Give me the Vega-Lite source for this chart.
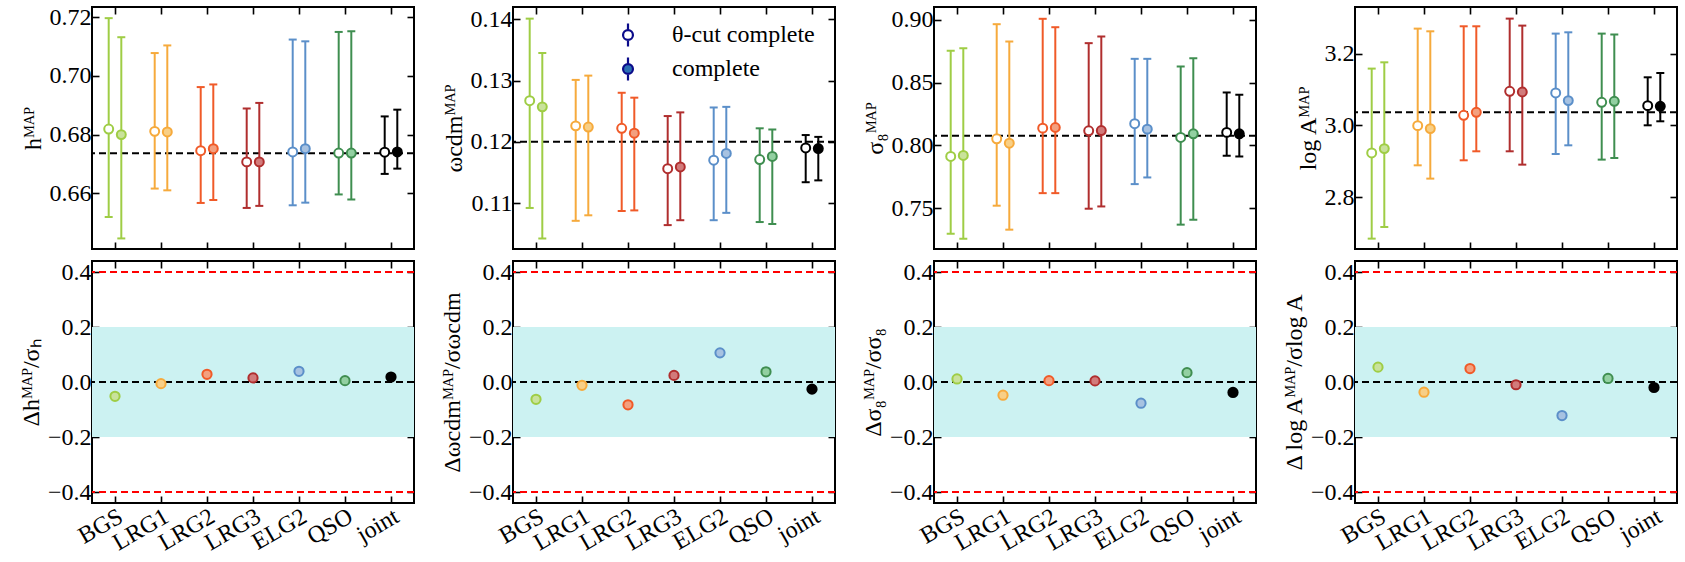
{
  "$schema": "https://vega.github.io/schema/vega-lite/v6.json",
  "background": "white",
  "padding": {"left": 18, "top": 4, "right": 5, "bottom": 3},
  "config": {
    "font": "Liberation Serif",
    "view": {"stroke": "black", "strokeWidth": 2},
    "axis": {"domain": false, "grid": false, "ticks": true, "tickSize": -7, "tickWidth": 1.6, "tickColor": "black", "labelFont": "Liberation Serif", "labelFontSize": 24, "labelColor": "black", "labelPadding": 8, "titleFont": "Liberation Serif", "titleFontSize": 24, "titleFontWeight": "normal", "titleColor": "black"},
    "legend": {"labelFont": "Liberation Serif", "labelFontSize": 24, "labelColor": "black"}
  },
  "datasets": {
    "top": [
      {"param": "h", "tracer": "BGS", "variant": "θ-cut complete", "v": 0.6819, "lo": 0.6519, "hi": 0.7197},
      {"param": "h", "tracer": "BGS", "variant": "complete", "v": 0.6800, "lo": 0.6446, "hi": 0.7132},
      {"param": "h", "tracer": "LRG1", "variant": "θ-cut complete", "v": 0.6811, "lo": 0.6616, "hi": 0.7078},
      {"param": "h", "tracer": "LRG1", "variant": "complete", "v": 0.6809, "lo": 0.6610, "hi": 0.7104},
      {"param": "h", "tracer": "LRG2", "variant": "θ-cut complete", "v": 0.6745, "lo": 0.6567, "hi": 0.6962},
      {"param": "h", "tracer": "LRG2", "variant": "complete", "v": 0.6752, "lo": 0.6577, "hi": 0.6971},
      {"param": "h", "tracer": "LRG3", "variant": "θ-cut complete", "v": 0.6707, "lo": 0.6550, "hi": 0.6889},
      {"param": "h", "tracer": "LRG3", "variant": "complete", "v": 0.6707, "lo": 0.6557, "hi": 0.6908},
      {"param": "h", "tracer": "ELG2", "variant": "θ-cut complete", "v": 0.6741, "lo": 0.6559, "hi": 0.7124},
      {"param": "h", "tracer": "ELG2", "variant": "complete", "v": 0.6752, "lo": 0.6568, "hi": 0.7118},
      {"param": "h", "tracer": "QSO", "variant": "θ-cut complete", "v": 0.6737, "lo": 0.6596, "hi": 0.7150},
      {"param": "h", "tracer": "QSO", "variant": "complete", "v": 0.6737, "lo": 0.6579, "hi": 0.7152},
      {"param": "h", "tracer": "joint", "variant": "θ-cut complete", "v": 0.6740, "lo": 0.6666, "hi": 0.6862},
      {"param": "h", "tracer": "joint", "variant": "complete", "v": 0.6741, "lo": 0.6684, "hi": 0.6885},
      {"param": "w", "tracer": "BGS", "variant": "θ-cut complete", "v": 0.1267, "lo": 0.1092, "hi": 0.1401},
      {"param": "w", "tracer": "BGS", "variant": "complete", "v": 0.1257, "lo": 0.1042, "hi": 0.1345},
      {"param": "w", "tracer": "LRG1", "variant": "θ-cut complete", "v": 0.1226, "lo": 0.1071, "hi": 0.1301},
      {"param": "w", "tracer": "LRG1", "variant": "complete", "v": 0.1224, "lo": 0.1080, "hi": 0.1308},
      {"param": "w", "tracer": "LRG2", "variant": "θ-cut complete", "v": 0.1222, "lo": 0.1087, "hi": 0.1280},
      {"param": "w", "tracer": "LRG2", "variant": "complete", "v": 0.1214, "lo": 0.1088, "hi": 0.1272},
      {"param": "w", "tracer": "LRG3", "variant": "θ-cut complete", "v": 0.1156, "lo": 0.1064, "hi": 0.1242},
      {"param": "w", "tracer": "LRG3", "variant": "complete", "v": 0.1159, "lo": 0.1072, "hi": 0.1248},
      {"param": "w", "tracer": "ELG2", "variant": "θ-cut complete", "v": 0.1170, "lo": 0.1072, "hi": 0.1256},
      {"param": "w", "tracer": "ELG2", "variant": "complete", "v": 0.1181, "lo": 0.1084, "hi": 0.1257},
      {"param": "w", "tracer": "QSO", "variant": "θ-cut complete", "v": 0.1171, "lo": 0.1069, "hi": 0.1222},
      {"param": "w", "tracer": "QSO", "variant": "complete", "v": 0.1176, "lo": 0.1066, "hi": 0.1220},
      {"param": "w", "tracer": "joint", "variant": "θ-cut complete", "v": 0.1190, "lo": 0.1134, "hi": 0.1211},
      {"param": "w", "tracer": "joint", "variant": "complete", "v": 0.1189, "lo": 0.1137, "hi": 0.1208},
      {"param": "s8", "tracer": "BGS", "variant": "θ-cut complete", "v": 0.7912, "lo": 0.7297, "hi": 0.8754},
      {"param": "s8", "tracer": "BGS", "variant": "complete", "v": 0.7920, "lo": 0.7257, "hi": 0.8775},
      {"param": "s8", "tracer": "LRG1", "variant": "θ-cut complete", "v": 0.8053, "lo": 0.7520, "hi": 0.8966},
      {"param": "s8", "tracer": "LRG1", "variant": "complete", "v": 0.8018, "lo": 0.7329, "hi": 0.8828},
      {"param": "s8", "tracer": "LRG2", "variant": "θ-cut complete", "v": 0.8138, "lo": 0.7620, "hi": 0.9009},
      {"param": "s8", "tracer": "LRG2", "variant": "complete", "v": 0.8143, "lo": 0.7620, "hi": 0.8942},
      {"param": "s8", "tracer": "LRG3", "variant": "θ-cut complete", "v": 0.8117, "lo": 0.7496, "hi": 0.8815},
      {"param": "s8", "tracer": "LRG3", "variant": "complete", "v": 0.8119, "lo": 0.7514, "hi": 0.8868},
      {"param": "s8", "tracer": "ELG2", "variant": "θ-cut complete", "v": 0.8173, "lo": 0.7692, "hi": 0.8690},
      {"param": "s8", "tracer": "ELG2", "variant": "complete", "v": 0.8130, "lo": 0.7745, "hi": 0.8690},
      {"param": "s8", "tracer": "QSO", "variant": "θ-cut complete", "v": 0.8064, "lo": 0.7369, "hi": 0.8629},
      {"param": "s8", "tracer": "QSO", "variant": "complete", "v": 0.8093, "lo": 0.7409, "hi": 0.8695},
      {"param": "s8", "tracer": "joint", "variant": "θ-cut complete", "v": 0.8104, "lo": 0.7918, "hi": 0.8422},
      {"param": "s8", "tracer": "joint", "variant": "complete", "v": 0.8093, "lo": 0.7912, "hi": 0.8404},
      {"param": "logA", "tracer": "BGS", "variant": "θ-cut complete", "v": 2.9228, "lo": 2.6839, "hi": 3.1582},
      {"param": "logA", "tracer": "BGS", "variant": "complete", "v": 2.9350, "lo": 2.7163, "hi": 3.1757},
      {"param": "logA", "tracer": "LRG1", "variant": "θ-cut complete", "v": 2.9991, "lo": 2.8884, "hi": 3.2697},
      {"param": "logA", "tracer": "LRG1", "variant": "complete", "v": 2.9908, "lo": 2.8513, "hi": 3.2622},
      {"param": "logA", "tracer": "LRG2", "variant": "θ-cut complete", "v": 3.0279, "lo": 2.9024, "hi": 3.2762},
      {"param": "logA", "tracer": "LRG2", "variant": "complete", "v": 3.0363, "lo": 2.9275, "hi": 3.2762},
      {"param": "logA", "tracer": "LRG3", "variant": "θ-cut complete", "v": 3.0948, "lo": 2.9275, "hi": 3.2976},
      {"param": "logA", "tracer": "LRG3", "variant": "complete", "v": 3.0929, "lo": 2.8903, "hi": 3.2781},
      {"param": "logA", "tracer": "ELG2", "variant": "θ-cut complete", "v": 3.0902, "lo": 2.9200, "hi": 3.2558},
      {"param": "logA", "tracer": "ELG2", "variant": "complete", "v": 3.0689, "lo": 2.9442, "hi": 3.2594},
      {"param": "logA", "tracer": "QSO", "variant": "θ-cut complete", "v": 3.0642, "lo": 2.9043, "hi": 3.2558},
      {"param": "logA", "tracer": "QSO", "variant": "complete", "v": 3.0669, "lo": 2.9088, "hi": 3.2530},
      {"param": "logA", "tracer": "joint", "variant": "θ-cut complete", "v": 3.0549, "lo": 3.0000, "hi": 3.1339},
      {"param": "logA", "tracer": "joint", "variant": "complete", "v": 3.0530, "lo": 3.0112, "hi": 3.1459}
    ],
    "truth": [
      {"param": "h", "v": 0.6736},
      {"param": "w", "v": 0.1200},
      {"param": "s8", "v": 0.8077},
      {"param": "logA", "v": 3.0363}
    ],
    "delta": [
      {"param": "h", "tracer": "BGS", "d": -0.052},
      {"param": "h", "tracer": "LRG1", "d": -0.006},
      {"param": "h", "tracer": "LRG2", "d": 0.028},
      {"param": "h", "tracer": "LRG3", "d": 0.015},
      {"param": "h", "tracer": "ELG2", "d": 0.039},
      {"param": "h", "tracer": "QSO", "d": 0.005},
      {"param": "h", "tracer": "joint", "d": 0.018},
      {"param": "w", "tracer": "BGS", "d": -0.063},
      {"param": "w", "tracer": "LRG1", "d": -0.012},
      {"param": "w", "tracer": "LRG2", "d": -0.083},
      {"param": "w", "tracer": "LRG3", "d": 0.024},
      {"param": "w", "tracer": "ELG2", "d": 0.106},
      {"param": "w", "tracer": "QSO", "d": 0.037},
      {"param": "w", "tracer": "joint", "d": -0.026},
      {"param": "s8", "tracer": "BGS", "d": 0.011},
      {"param": "s8", "tracer": "LRG1", "d": -0.048},
      {"param": "s8", "tracer": "LRG2", "d": 0.005},
      {"param": "s8", "tracer": "LRG3", "d": 0.004},
      {"param": "s8", "tracer": "ELG2", "d": -0.077},
      {"param": "s8", "tracer": "QSO", "d": 0.034},
      {"param": "s8", "tracer": "joint", "d": -0.038},
      {"param": "logA", "tracer": "BGS", "d": 0.054},
      {"param": "logA", "tracer": "LRG1", "d": -0.037},
      {"param": "logA", "tracer": "LRG2", "d": 0.049},
      {"param": "logA", "tracer": "LRG3", "d": -0.010},
      {"param": "logA", "tracer": "ELG2", "d": -0.122},
      {"param": "logA", "tracer": "QSO", "d": 0.013},
      {"param": "logA", "tracer": "joint", "d": -0.020}
    ],
    "variants": [{"variant": "θ-cut complete"}, {"variant": "complete"}],
    "band": [{"lo": -0.2, "hi": 0.2}],
    "limits": [{"v": -0.4}, {"v": 0.4}],
    "zero": [{"v": 0}]
  },
  "columns": 4,
  "spacing": {"row": 12, "column": 99},
  "bounds": "flush",
  "resolve": {"scale": {"fill": "independent"}, "legend": {"fill": "independent"}},
  "concat": [
    {
      "width": 322, "height": 242,
      "layer": [
        {"data": {"name": "truth"}, "transform": [{"filter": "datum.param === 'h'"}], "mark": {"type": "rule", "strokeDash": [7, 4], "strokeWidth": 2, "color": "black"}, "encoding": {"y": {"field": "v", "type": "quantitative", "scale": {"domain": [0.641, 0.7235], "nice": false, "zero": false}, "axis": null}}},
        {"data": {"name": "top"}, "transform": [{"filter": "datum.param === 'h'"}], "mark": {"type": "rule", "strokeWidth": 2}, "encoding": {
          "x": {"field": "tracer", "type": "nominal", "scale": {"type": "band", "domain": ["BGS", "LRG1", "LRG2", "LRG3", "ELG2", "QSO", "joint"], "paddingInner": 0, "paddingOuter": 0}, "axis": {"orient": "top", "labels": false, "title": null}},
          "xOffset": {"field": "variant", "type": "nominal", "scale": {"domain": ["θ-cut complete", "complete"], "paddingInner": 0, "paddingOuter": 0.825}},
          "y": {"field": "lo", "type": "quantitative", "scale": {"domain": [0.641, 0.7235], "nice": false, "zero": false}, "axis": {"orient": "right", "labels": false, "title": null, "values": [0.66, 0.68, 0.70, 0.72]}},
          "y2": {"field": "hi"},
          "stroke": {"field": "tracer", "type": "nominal", "scale": {"domain": ["BGS", "LRG1", "LRG2", "LRG3", "ELG2", "QSO", "joint"], "range": ["#9fcd45", "#f6aa3c", "#f05a28", "#b02e2e", "#5b8fc9", "#3f8e50", "#000000"]}, "legend": null}}},
        {"data": {"name": "top"}, "transform": [{"filter": "datum.param === 'h'"}], "mark": {"type": "tick", "orient": "horizontal", "size": 8, "thickness": 2, "opacity": 1}, "encoding": {
          "x": {"field": "tracer", "type": "nominal", "axis": null},
          "xOffset": {"field": "variant", "type": "nominal"},
          "y": {"field": "lo", "type": "quantitative", "axis": null},
          "color": {"field": "tracer", "type": "nominal", "scale": {"domain": ["BGS", "LRG1", "LRG2", "LRG3", "ELG2", "QSO", "joint"], "range": ["#9fcd45", "#f6aa3c", "#f05a28", "#b02e2e", "#5b8fc9", "#3f8e50", "#000000"]}, "legend": null}}},
        {"data": {"name": "top"}, "transform": [{"filter": "datum.param === 'h'"}], "mark": {"type": "tick", "orient": "horizontal", "size": 8, "thickness": 2, "opacity": 1}, "encoding": {
          "x": {"field": "tracer", "type": "nominal", "axis": null},
          "xOffset": {"field": "variant", "type": "nominal"},
          "y": {"field": "hi", "type": "quantitative", "axis": null},
          "color": {"field": "tracer", "type": "nominal", "legend": null}}},
        {"data": {"name": "top"}, "transform": [{"filter": "datum.param === 'h' && datum.variant === 'θ-cut complete'"}], "mark": {"type": "circle", "size": 80, "fill": "white", "strokeWidth": 2, "opacity": 1}, "encoding": {
          "x": {"field": "tracer", "type": "nominal", "axis": null},
          "xOffset": {"field": "variant", "type": "nominal"},
          "y": {"field": "v", "type": "quantitative", "axis": null},
          "stroke": {"field": "tracer", "type": "nominal", "legend": null}}},
        {"data": {"name": "top"}, "transform": [{"filter": "datum.param === 'h' && datum.variant === 'complete'"}], "mark": {"type": "circle", "size": 80, "strokeWidth": 2, "opacity": 1}, "encoding": {
          "x": {"field": "tracer", "type": "nominal", "axis": {"orient": "bottom", "labels": false, "title": null}},
          "xOffset": {"field": "variant", "type": "nominal"},
          "y": {"field": "v", "type": "quantitative", "axis": {"orient": "left", "values": [0.66, 0.68, 0.70, 0.72], "format": ".2f", "title": "hᴹᴬᴾ"}},
          "stroke": {"field": "tracer", "type": "nominal", "legend": null},
          "fill": {"field": "tracer", "type": "nominal", "scale": {"domain": ["BGS", "LRG1", "LRG2", "LRG3", "ELG2", "QSO", "joint"], "range": ["#c9e29b", "#f8cf86", "#f3a07f", "#d27b7b", "#a7c2e1", "#92d0a1", "#000000"]}, "legend": null}}}
      ],
      "resolve": {"axis": {"x": "independent", "y": "independent"}}
    },
    {
      "width": 322, "height": 242,
      "layer": [
        {"data": {"name": "truth"}, "transform": [{"filter": "datum.param === 'w'"}], "mark": {"type": "rule", "strokeDash": [7, 4], "strokeWidth": 2, "color": "black"}, "encoding": {"y": {"field": "v", "type": "quantitative", "scale": {"domain": [0.1025, 0.142], "nice": false, "zero": false}, "axis": null}}},
        {"data": {"name": "top"}, "transform": [{"filter": "datum.param === 'w'"}], "mark": {"type": "rule", "strokeWidth": 2}, "encoding": {
          "x": {"field": "tracer", "type": "nominal", "scale": {"type": "band", "domain": ["BGS", "LRG1", "LRG2", "LRG3", "ELG2", "QSO", "joint"], "paddingInner": 0, "paddingOuter": 0}, "axis": {"orient": "top", "labels": false, "title": null}},
          "xOffset": {"field": "variant", "type": "nominal", "scale": {"domain": ["θ-cut complete", "complete"], "paddingInner": 0, "paddingOuter": 0.825}},
          "y": {"field": "lo", "type": "quantitative", "scale": {"domain": [0.1025, 0.142], "nice": false, "zero": false}, "axis": {"orient": "right", "labels": false, "title": null, "values": [0.11, 0.12, 0.13, 0.14]}},
          "y2": {"field": "hi"},
          "stroke": {"field": "tracer", "type": "nominal", "legend": null}}},
        {"data": {"name": "top"}, "transform": [{"filter": "datum.param === 'w'"}], "mark": {"type": "tick", "orient": "horizontal", "size": 8, "thickness": 2, "opacity": 1}, "encoding": {
          "x": {"field": "tracer", "type": "nominal", "axis": null},
          "xOffset": {"field": "variant", "type": "nominal"},
          "y": {"field": "lo", "type": "quantitative", "axis": null},
          "color": {"field": "tracer", "type": "nominal", "legend": null}}},
        {"data": {"name": "top"}, "transform": [{"filter": "datum.param === 'w'"}], "mark": {"type": "tick", "orient": "horizontal", "size": 8, "thickness": 2, "opacity": 1}, "encoding": {
          "x": {"field": "tracer", "type": "nominal", "axis": null},
          "xOffset": {"field": "variant", "type": "nominal"},
          "y": {"field": "hi", "type": "quantitative", "axis": null},
          "color": {"field": "tracer", "type": "nominal", "legend": null}}},
        {"data": {"name": "top"}, "transform": [{"filter": "datum.param === 'w' && datum.variant === 'θ-cut complete'"}], "mark": {"type": "circle", "size": 80, "fill": "white", "strokeWidth": 2, "opacity": 1}, "encoding": {
          "x": {"field": "tracer", "type": "nominal", "axis": null},
          "xOffset": {"field": "variant", "type": "nominal"},
          "y": {"field": "v", "type": "quantitative", "axis": null},
          "stroke": {"field": "tracer", "type": "nominal", "legend": null}}},
        {"data": {"name": "top"}, "transform": [{"filter": "datum.param === 'w' && datum.variant === 'complete'"}], "mark": {"type": "circle", "size": 80, "strokeWidth": 2, "opacity": 1}, "encoding": {
          "x": {"field": "tracer", "type": "nominal", "axis": {"orient": "bottom", "labels": false, "title": null}},
          "xOffset": {"field": "variant", "type": "nominal"},
          "y": {"field": "v", "type": "quantitative", "axis": {"orient": "left", "values": [0.11, 0.12, 0.13, 0.14], "format": ".2f", "title": "ωcdmᴹᴬᴾ"}},
          "stroke": {"field": "tracer", "type": "nominal", "legend": null},
          "fill": {"field": "tracer", "type": "nominal", "scale": {"domain": ["BGS", "LRG1", "LRG2", "LRG3", "ELG2", "QSO", "joint"], "range": ["#c9e29b", "#f8cf86", "#f3a07f", "#d27b7b", "#a7c2e1", "#92d0a1", "#000000"]}, "legend": null}}},
        {"data": {"name": "variants"}, "mark": {"type": "point", "filled": true, "shape": "M0,-1L0,-0.43M0,0.43L0,1M-0.43,0A0.43,0.43 0 1,0 0.43,0A0.43,0.43 0 1,0 -0.43,0Z", "stroke": "#0b0b8a", "strokeWidth": 2.2, "size": 529, "opacity": 0}, "encoding": {
          "fill": {"field": "variant", "type": "nominal", "scale": {"domain": ["θ-cut complete", "complete"], "range": ["#ffffff", "#2b6fb3"]},
            "legend": {"orient": "none", "legendX": 102, "legendY": 15, "title": null, "symbolSize": 529, "symbolType": "M0,-1L0,-0.43M0,0.43L0,1M-0.43,0A0.43,0.43 0 1,0 0.43,0A0.43,0.43 0 1,0 -0.43,0Z", "symbolStrokeWidth": 2.2, "symbolStrokeColor": "#0b0b8a", "symbolOpacity": 1, "labelOffset": 31, "rowPadding": 2, "labelFontSize": 24}}}}
      ],
      "resolve": {"axis": {"x": "independent", "y": "independent"}, "scale": {"fill": "independent"}, "legend": {"fill": "independent"}}
    },
    {
      "width": 322, "height": 242,
      "layer": [
        {"data": {"name": "truth"}, "transform": [{"filter": "datum.param === 's8'"}], "mark": {"type": "rule", "strokeDash": [7, 4], "strokeWidth": 2, "color": "black"}, "encoding": {"y": {"field": "v", "type": "quantitative", "scale": {"domain": [0.7175, 0.9103], "nice": false, "zero": false}, "axis": null}}},
        {"data": {"name": "top"}, "transform": [{"filter": "datum.param === 's8'"}], "mark": {"type": "rule", "strokeWidth": 2}, "encoding": {
          "x": {"field": "tracer", "type": "nominal", "scale": {"type": "band", "domain": ["BGS", "LRG1", "LRG2", "LRG3", "ELG2", "QSO", "joint"], "paddingInner": 0, "paddingOuter": 0}, "axis": {"orient": "top", "labels": false, "title": null}},
          "xOffset": {"field": "variant", "type": "nominal", "scale": {"domain": ["θ-cut complete", "complete"], "paddingInner": 0, "paddingOuter": 0.825}},
          "y": {"field": "lo", "type": "quantitative", "scale": {"domain": [0.7175, 0.9103], "nice": false, "zero": false}, "axis": {"orient": "right", "labels": false, "title": null, "values": [0.75, 0.80, 0.85, 0.90]}},
          "y2": {"field": "hi"},
          "stroke": {"field": "tracer", "type": "nominal", "legend": null}}},
        {"data": {"name": "top"}, "transform": [{"filter": "datum.param === 's8'"}], "mark": {"type": "tick", "orient": "horizontal", "size": 8, "thickness": 2, "opacity": 1}, "encoding": {
          "x": {"field": "tracer", "type": "nominal", "axis": null},
          "xOffset": {"field": "variant", "type": "nominal"},
          "y": {"field": "lo", "type": "quantitative", "axis": null},
          "color": {"field": "tracer", "type": "nominal", "legend": null}}},
        {"data": {"name": "top"}, "transform": [{"filter": "datum.param === 's8'"}], "mark": {"type": "tick", "orient": "horizontal", "size": 8, "thickness": 2, "opacity": 1}, "encoding": {
          "x": {"field": "tracer", "type": "nominal", "axis": null},
          "xOffset": {"field": "variant", "type": "nominal"},
          "y": {"field": "hi", "type": "quantitative", "axis": null},
          "color": {"field": "tracer", "type": "nominal", "legend": null}}},
        {"data": {"name": "top"}, "transform": [{"filter": "datum.param === 's8' && datum.variant === 'θ-cut complete'"}], "mark": {"type": "circle", "size": 80, "fill": "white", "strokeWidth": 2, "opacity": 1}, "encoding": {
          "x": {"field": "tracer", "type": "nominal", "axis": null},
          "xOffset": {"field": "variant", "type": "nominal"},
          "y": {"field": "v", "type": "quantitative", "axis": null},
          "stroke": {"field": "tracer", "type": "nominal", "legend": null}}},
        {"data": {"name": "top"}, "transform": [{"filter": "datum.param === 's8' && datum.variant === 'complete'"}], "mark": {"type": "circle", "size": 80, "strokeWidth": 2, "opacity": 1}, "encoding": {
          "x": {"field": "tracer", "type": "nominal", "axis": {"orient": "bottom", "labels": false, "title": null}},
          "xOffset": {"field": "variant", "type": "nominal"},
          "y": {"field": "v", "type": "quantitative", "axis": {"orient": "left", "values": [0.75, 0.80, 0.85, 0.90], "format": ".2f", "title": "σ₈ᴹᴬᴾ"}},
          "stroke": {"field": "tracer", "type": "nominal", "legend": null},
          "fill": {"field": "tracer", "type": "nominal", "scale": {"domain": ["BGS", "LRG1", "LRG2", "LRG3", "ELG2", "QSO", "joint"], "range": ["#c9e29b", "#f8cf86", "#f3a07f", "#d27b7b", "#a7c2e1", "#92d0a1", "#000000"]}, "legend": null}}}
      ],
      "resolve": {"axis": {"x": "independent", "y": "independent"}}
    },
    {
      "width": 322, "height": 242,
      "layer": [
        {"data": {"name": "truth"}, "transform": [{"filter": "datum.param === 'logA'"}], "mark": {"type": "rule", "strokeDash": [7, 4], "strokeWidth": 2, "color": "black"}, "encoding": {"y": {"field": "v", "type": "quantitative", "scale": {"domain": [2.655, 3.33], "nice": false, "zero": false}, "axis": null}}},
        {"data": {"name": "top"}, "transform": [{"filter": "datum.param === 'logA'"}], "mark": {"type": "rule", "strokeWidth": 2}, "encoding": {
          "x": {"field": "tracer", "type": "nominal", "scale": {"type": "band", "domain": ["BGS", "LRG1", "LRG2", "LRG3", "ELG2", "QSO", "joint"], "paddingInner": 0, "paddingOuter": 0}, "axis": {"orient": "top", "labels": false, "title": null}},
          "xOffset": {"field": "variant", "type": "nominal", "scale": {"domain": ["θ-cut complete", "complete"], "paddingInner": 0, "paddingOuter": 0.825}},
          "y": {"field": "lo", "type": "quantitative", "scale": {"domain": [2.655, 3.33], "nice": false, "zero": false}, "axis": {"orient": "right", "labels": false, "title": null, "values": [2.8, 3.0, 3.2]}},
          "y2": {"field": "hi"},
          "stroke": {"field": "tracer", "type": "nominal", "legend": null}}},
        {"data": {"name": "top"}, "transform": [{"filter": "datum.param === 'logA'"}], "mark": {"type": "tick", "orient": "horizontal", "size": 8, "thickness": 2, "opacity": 1}, "encoding": {
          "x": {"field": "tracer", "type": "nominal", "axis": null},
          "xOffset": {"field": "variant", "type": "nominal"},
          "y": {"field": "lo", "type": "quantitative", "axis": null},
          "color": {"field": "tracer", "type": "nominal", "legend": null}}},
        {"data": {"name": "top"}, "transform": [{"filter": "datum.param === 'logA'"}], "mark": {"type": "tick", "orient": "horizontal", "size": 8, "thickness": 2, "opacity": 1}, "encoding": {
          "x": {"field": "tracer", "type": "nominal", "axis": null},
          "xOffset": {"field": "variant", "type": "nominal"},
          "y": {"field": "hi", "type": "quantitative", "axis": null},
          "color": {"field": "tracer", "type": "nominal", "legend": null}}},
        {"data": {"name": "top"}, "transform": [{"filter": "datum.param === 'logA' && datum.variant === 'θ-cut complete'"}], "mark": {"type": "circle", "size": 80, "fill": "white", "strokeWidth": 2, "opacity": 1}, "encoding": {
          "x": {"field": "tracer", "type": "nominal", "axis": null},
          "xOffset": {"field": "variant", "type": "nominal"},
          "y": {"field": "v", "type": "quantitative", "axis": null},
          "stroke": {"field": "tracer", "type": "nominal", "legend": null}}},
        {"data": {"name": "top"}, "transform": [{"filter": "datum.param === 'logA' && datum.variant === 'complete'"}], "mark": {"type": "circle", "size": 80, "strokeWidth": 2, "opacity": 1}, "encoding": {
          "x": {"field": "tracer", "type": "nominal", "axis": {"orient": "bottom", "labels": false, "title": null}},
          "xOffset": {"field": "variant", "type": "nominal"},
          "y": {"field": "v", "type": "quantitative", "axis": {"orient": "left", "values": [2.8, 3.0, 3.2], "format": ".1f", "title": "log Aᴹᴬᴾ"}},
          "stroke": {"field": "tracer", "type": "nominal", "legend": null},
          "fill": {"field": "tracer", "type": "nominal", "scale": {"domain": ["BGS", "LRG1", "LRG2", "LRG3", "ELG2", "QSO", "joint"], "range": ["#c9e29b", "#f8cf86", "#f3a07f", "#d27b7b", "#a7c2e1", "#92d0a1", "#000000"]}, "legend": null}}}
      ],
      "resolve": {"axis": {"x": "independent", "y": "independent"}}
    },
    {
      "width": 322, "height": 242,
      "layer": [
        {"data": {"name": "band"}, "mark": {"type": "rect", "color": "#ccf2f2"}, "encoding": {"y": {"field": "lo", "type": "quantitative", "scale": {"domain": [-0.44, 0.44], "nice": false, "zero": false}, "axis": null}, "y2": {"field": "hi"}}},
        {"data": {"name": "limits"}, "mark": {"type": "rule", "strokeDash": [7, 4], "strokeWidth": 1.8, "color": "#ff0000"}, "encoding": {"y": {"field": "v", "type": "quantitative", "axis": null}}},
        {"data": {"name": "zero"}, "mark": {"type": "rule", "strokeDash": [7, 4], "strokeWidth": 2, "color": "black"}, "encoding": {"y": {"field": "v", "type": "quantitative", "axis": null}}},
        {"data": {"name": "delta"}, "transform": [{"filter": "datum.param === 'h'"}], "mark": {"type": "circle", "opacity": 0}, "encoding": {
          "x": {"field": "tracer", "type": "nominal", "scale": {"type": "band", "domain": ["BGS", "LRG1", "LRG2", "LRG3", "ELG2", "QSO", "joint"], "paddingInner": 0, "paddingOuter": 0}, "axis": {"orient": "top", "labels": false, "title": null}},
          "y": {"field": "d", "type": "quantitative", "scale": {"domain": [-0.44, 0.44], "nice": false, "zero": false}, "axis": {"orient": "right", "labels": false, "title": null, "values": [-0.4, -0.2, 0, 0.2, 0.4]}}}},
        {"data": {"name": "delta"}, "transform": [{"filter": "datum.param === 'h'"}], "mark": {"type": "circle", "size": 85, "strokeWidth": 2, "opacity": 1}, "encoding": {
          "x": {"field": "tracer", "type": "nominal", "axis": {"orient": "bottom", "title": null, "labelAngle": -30, "labelAlign": "right", "labelBaseline": "top"}},
          "y": {"field": "d", "type": "quantitative", "axis": {"orient": "left", "values": [-0.4, -0.2, 0, 0.2, 0.4], "format": ".1f", "title": "Δhᴹᴬᴾ/σₕ"}},
          "stroke": {"field": "tracer", "type": "nominal", "legend": null},
          "fill": {"field": "tracer", "type": "nominal", "scale": {"domain": ["BGS", "LRG1", "LRG2", "LRG3", "ELG2", "QSO", "joint"], "range": ["#c9e29b", "#f8cf86", "#f3a07f", "#d27b7b", "#a7c2e1", "#92d0a1", "#000000"]}, "legend": null}}}
      ],
      "resolve": {"axis": {"x": "independent", "y": "independent"}}
    },
    {
      "width": 322, "height": 242,
      "layer": [
        {"data": {"name": "band"}, "mark": {"type": "rect", "color": "#ccf2f2"}, "encoding": {"y": {"field": "lo", "type": "quantitative", "scale": {"domain": [-0.44, 0.44], "nice": false, "zero": false}, "axis": null}, "y2": {"field": "hi"}}},
        {"data": {"name": "limits"}, "mark": {"type": "rule", "strokeDash": [7, 4], "strokeWidth": 1.8, "color": "#ff0000"}, "encoding": {"y": {"field": "v", "type": "quantitative", "axis": null}}},
        {"data": {"name": "zero"}, "mark": {"type": "rule", "strokeDash": [7, 4], "strokeWidth": 2, "color": "black"}, "encoding": {"y": {"field": "v", "type": "quantitative", "axis": null}}},
        {"data": {"name": "delta"}, "transform": [{"filter": "datum.param === 'w'"}], "mark": {"type": "circle", "opacity": 0}, "encoding": {
          "x": {"field": "tracer", "type": "nominal", "scale": {"type": "band", "domain": ["BGS", "LRG1", "LRG2", "LRG3", "ELG2", "QSO", "joint"], "paddingInner": 0, "paddingOuter": 0}, "axis": {"orient": "top", "labels": false, "title": null}},
          "y": {"field": "d", "type": "quantitative", "scale": {"domain": [-0.44, 0.44], "nice": false, "zero": false}, "axis": {"orient": "right", "labels": false, "title": null, "values": [-0.4, -0.2, 0, 0.2, 0.4]}}}},
        {"data": {"name": "delta"}, "transform": [{"filter": "datum.param === 'w'"}], "mark": {"type": "circle", "size": 85, "strokeWidth": 2, "opacity": 1}, "encoding": {
          "x": {"field": "tracer", "type": "nominal", "axis": {"orient": "bottom", "title": null, "labelAngle": -30, "labelAlign": "right", "labelBaseline": "top"}},
          "y": {"field": "d", "type": "quantitative", "axis": {"orient": "left", "values": [-0.4, -0.2, 0, 0.2, 0.4], "format": ".1f", "title": "Δωcdmᴹᴬᴾ/σωcdm"}},
          "stroke": {"field": "tracer", "type": "nominal", "legend": null},
          "fill": {"field": "tracer", "type": "nominal", "scale": {"domain": ["BGS", "LRG1", "LRG2", "LRG3", "ELG2", "QSO", "joint"], "range": ["#c9e29b", "#f8cf86", "#f3a07f", "#d27b7b", "#a7c2e1", "#92d0a1", "#000000"]}, "legend": null}}}
      ],
      "resolve": {"axis": {"x": "independent", "y": "independent"}}
    },
    {
      "width": 322, "height": 242,
      "layer": [
        {"data": {"name": "band"}, "mark": {"type": "rect", "color": "#ccf2f2"}, "encoding": {"y": {"field": "lo", "type": "quantitative", "scale": {"domain": [-0.44, 0.44], "nice": false, "zero": false}, "axis": null}, "y2": {"field": "hi"}}},
        {"data": {"name": "limits"}, "mark": {"type": "rule", "strokeDash": [7, 4], "strokeWidth": 1.8, "color": "#ff0000"}, "encoding": {"y": {"field": "v", "type": "quantitative", "axis": null}}},
        {"data": {"name": "zero"}, "mark": {"type": "rule", "strokeDash": [7, 4], "strokeWidth": 2, "color": "black"}, "encoding": {"y": {"field": "v", "type": "quantitative", "axis": null}}},
        {"data": {"name": "delta"}, "transform": [{"filter": "datum.param === 's8'"}], "mark": {"type": "circle", "opacity": 0}, "encoding": {
          "x": {"field": "tracer", "type": "nominal", "scale": {"type": "band", "domain": ["BGS", "LRG1", "LRG2", "LRG3", "ELG2", "QSO", "joint"], "paddingInner": 0, "paddingOuter": 0}, "axis": {"orient": "top", "labels": false, "title": null}},
          "y": {"field": "d", "type": "quantitative", "scale": {"domain": [-0.44, 0.44], "nice": false, "zero": false}, "axis": {"orient": "right", "labels": false, "title": null, "values": [-0.4, -0.2, 0, 0.2, 0.4]}}}},
        {"data": {"name": "delta"}, "transform": [{"filter": "datum.param === 's8'"}], "mark": {"type": "circle", "size": 85, "strokeWidth": 2, "opacity": 1}, "encoding": {
          "x": {"field": "tracer", "type": "nominal", "axis": {"orient": "bottom", "title": null, "labelAngle": -30, "labelAlign": "right", "labelBaseline": "top"}},
          "y": {"field": "d", "type": "quantitative", "axis": {"orient": "left", "values": [-0.4, -0.2, 0, 0.2, 0.4], "format": ".1f", "title": "Δσ₈ᴹᴬᴾ/σσ₈"}},
          "stroke": {"field": "tracer", "type": "nominal", "legend": null},
          "fill": {"field": "tracer", "type": "nominal", "scale": {"domain": ["BGS", "LRG1", "LRG2", "LRG3", "ELG2", "QSO", "joint"], "range": ["#c9e29b", "#f8cf86", "#f3a07f", "#d27b7b", "#a7c2e1", "#92d0a1", "#000000"]}, "legend": null}}}
      ],
      "resolve": {"axis": {"x": "independent", "y": "independent"}}
    },
    {
      "width": 322, "height": 242,
      "layer": [
        {"data": {"name": "band"}, "mark": {"type": "rect", "color": "#ccf2f2"}, "encoding": {"y": {"field": "lo", "type": "quantitative", "scale": {"domain": [-0.44, 0.44], "nice": false, "zero": false}, "axis": null}, "y2": {"field": "hi"}}},
        {"data": {"name": "limits"}, "mark": {"type": "rule", "strokeDash": [7, 4], "strokeWidth": 1.8, "color": "#ff0000"}, "encoding": {"y": {"field": "v", "type": "quantitative", "axis": null}}},
        {"data": {"name": "zero"}, "mark": {"type": "rule", "strokeDash": [7, 4], "strokeWidth": 2, "color": "black"}, "encoding": {"y": {"field": "v", "type": "quantitative", "axis": null}}},
        {"data": {"name": "delta"}, "transform": [{"filter": "datum.param === 'logA'"}], "mark": {"type": "circle", "opacity": 0}, "encoding": {
          "x": {"field": "tracer", "type": "nominal", "scale": {"type": "band", "domain": ["BGS", "LRG1", "LRG2", "LRG3", "ELG2", "QSO", "joint"], "paddingInner": 0, "paddingOuter": 0}, "axis": {"orient": "top", "labels": false, "title": null}},
          "y": {"field": "d", "type": "quantitative", "scale": {"domain": [-0.44, 0.44], "nice": false, "zero": false}, "axis": {"orient": "right", "labels": false, "title": null, "values": [-0.4, -0.2, 0, 0.2, 0.4]}}}},
        {"data": {"name": "delta"}, "transform": [{"filter": "datum.param === 'logA'"}], "mark": {"type": "circle", "size": 85, "strokeWidth": 2, "opacity": 1}, "encoding": {
          "x": {"field": "tracer", "type": "nominal", "axis": {"orient": "bottom", "title": null, "labelAngle": -30, "labelAlign": "right", "labelBaseline": "top"}},
          "y": {"field": "d", "type": "quantitative", "axis": {"orient": "left", "values": [-0.4, -0.2, 0, 0.2, 0.4], "format": ".1f", "title": "Δ log Aᴹᴬᴾ/σlog A"}},
          "stroke": {"field": "tracer", "type": "nominal", "legend": null},
          "fill": {"field": "tracer", "type": "nominal", "scale": {"domain": ["BGS", "LRG1", "LRG2", "LRG3", "ELG2", "QSO", "joint"], "range": ["#c9e29b", "#f8cf86", "#f3a07f", "#d27b7b", "#a7c2e1", "#92d0a1", "#000000"]}, "legend": null}}}
      ],
      "resolve": {"axis": {"x": "independent", "y": "independent"}}
    }
  ]
}
